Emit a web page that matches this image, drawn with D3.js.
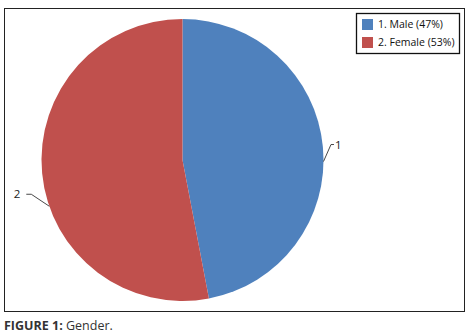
<!DOCTYPE html>
<html>
<head>
<meta charset="utf-8">
<script src="https://cdnjs.cloudflare.com/ajax/libs/d3/7.8.5/d3.min.js"></script>
<style>
  body { margin: 0; background: #fff; }
  svg text { font-family: "Open Sans", "Liberation Sans", sans-serif; }
</style>
</head>
<body>
<div id="chart"></div>
<script>
// data
const categories = ["1", "2"];
const legendLabels = ["1. Male (47%)", "2. Female (53%)"];
const shares = [47, 53];
const colors = ["#4F81BD", "#C0504D"];

const W = 468, H = 336;

const svg = d3.select("#chart").append("svg")
    .attr("width", W)
    .attr("height", H);

// outer frame
svg.append("rect")
    .attr("x", 4.5).attr("y", 8.5)
    .attr("width", 460).attr("height", 303)
    .attr("fill", "none")
    .attr("stroke", "#222")
    .attr("stroke-width", 1);

const cx = 182.5, cy = 160, r = 141;

const pie = d3.pie().sort(null).value(d => d);
const arcs = pie(shares);
const arc = d3.arc().innerRadius(0).outerRadius(r);

const g = svg.append("g").attr("transform", `translate(${cx},${cy})`);

g.selectAll("path.slice")
    .data(arcs)
    .enter().append("path")
    .attr("class", "slice")
    .attr("d", arc)
    .attr("fill", (d, i) => colors[i]);

// leader lines + labels (angle offset from slice middle, like excel places them)
const leaderOffset = [0.105, -0.24];
function polar(a, rad) { return [rad * Math.sin(a), -rad * Math.cos(a)]; }

arcs.forEach((d, i) => {
    const mid = (d.startAngle + d.endAngle) / 2 + leaderOffset[i];
    const p0 = polar(mid, r);
    const right = Math.sin(mid) > 0;
    let pts, lx, ly;
    if (right) {
        const p1 = [p0[0] + 7.5, p0[1] - 17];
        const p2 = [p1[0] + 3, p1[1]];
        pts = [p0, p1, p2];
        lx = p2[0] + 1; ly = p2[1];
    } else {
        const p1 = [p0[0] - 18, p0[1] - 12];
        const p2 = [p1[0] - 5, p1[1]];
        pts = [p0, p1, p2];
        lx = p2[0] - 6; ly = p2[1];
    }
    g.append("path")
        .attr("d", d3.line()(pts))
        .attr("fill", "none")
        .attr("stroke", "#333")
        .attr("stroke-width", 0.9);
    g.append("text")
        .attr("x", lx).attr("y", ly)
        .attr("dy", "0.35em")
        .attr("text-anchor", right ? "start" : "end")
        .style("font-size", "11.5px")
        .attr("fill", "#222")
        .text(categories[i]);
});

// legend
const legend = svg.append("g").attr("transform", "translate(356,13)");
legend.append("rect")
    .attr("x", 0.5).attr("y", 0.5)
    .attr("width", 103).attr("height", 40)
    .attr("fill", "#fff")
    .attr("stroke", "#111")
    .attr("stroke-width", 1.3);

const items = legend.selectAll(".item")
    .data(legendLabels)
    .enter().append("g")
    .attr("class", "item")
    .attr("transform", (d, i) => `translate(6,${6 + i * 18})`);

items.append("rect")
    .attr("width", 11).attr("height", 11)
    .attr("fill", (d, i) => colors[i]);

items.append("text")
    .attr("x", 16).attr("y", 5.5)
    .attr("dy", "0.35em")
    .style("font-size", "10.5px")
    .attr("fill", "#111")
    .text(d => d);

// caption
const cap = svg.append("text")
    .attr("x", 4).attr("y", 330)
    .style("font-size", "12.5px")
    .attr("fill", "#333");
cap.append("tspan").style("font-weight", "bold").text("FIGURE 1:");
cap.append("tspan").text(" Gender.");
</script>
</body>
</html>
